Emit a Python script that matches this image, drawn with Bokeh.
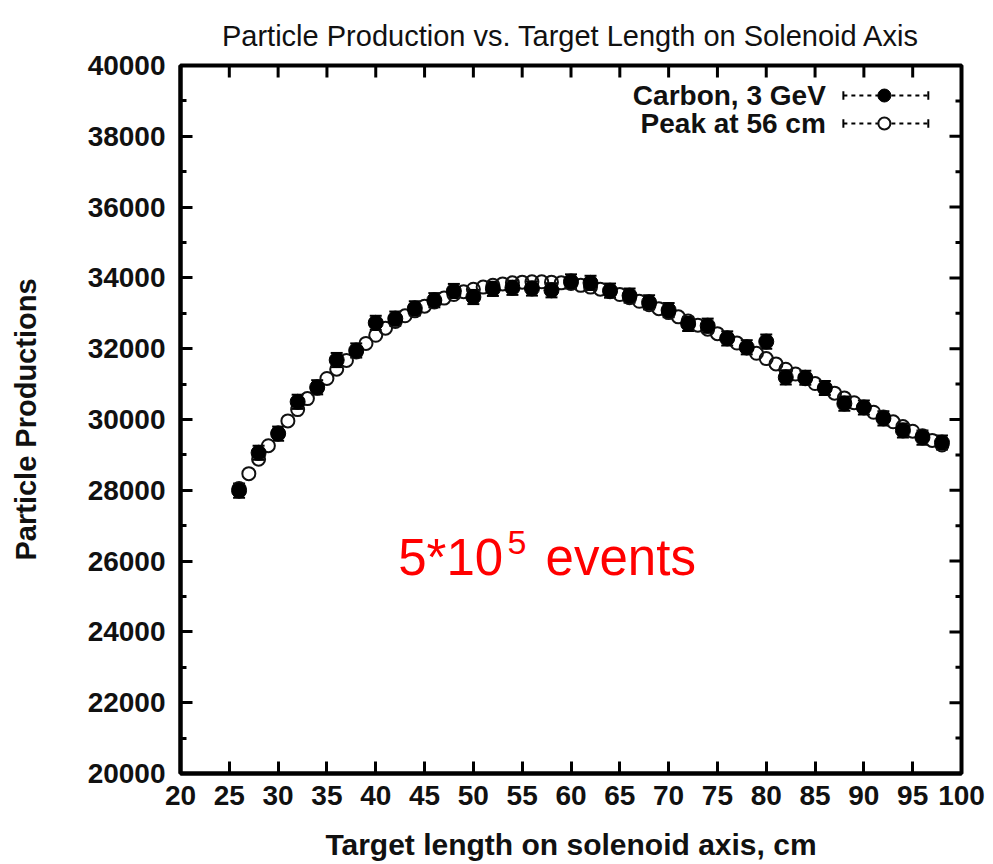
from bokeh.plotting import figure
from bokeh.models import (LinearAxis, SingleIntervalTicker, Range1d,
                          Whisker, ColumnDataSource, Label, TeeHead, Title)
from bokeh.core.properties import value
from bokeh.embed import file_html
from bokeh.resources import INLINE

# ---------------- data ----------------
carbon_x = [26, 28, 30, 32, 34, 36, 38, 40, 42, 44, 46, 48, 50, 52, 54, 56, 58,
            60, 62, 64, 66, 68, 70, 72, 74, 76, 78, 80, 82, 84, 86, 88, 90, 92,
            94, 96, 98]
carbon_y = [27990, 29060, 29600, 30500, 30910, 31680, 31950, 32730, 32850, 33140,
            33370, 33630, 33460, 33690, 33720, 33700, 33650, 33900, 33860, 33640,
            33500, 33310, 33090, 32700, 32650, 32290, 32040, 32200, 31190, 31180,
            30890, 30450, 30340, 30030, 29690, 29490, 29350]
carbon_err = [200, 200, 200, 200, 200, 200, 200, 200, 200, 200, 200, 200, 200,
              200, 200, 200, 200, 200, 200, 200, 200, 200, 200, 200, 200, 200,
              200, 200, 200, 200, 200, 200, 200, 200, 200, 200, 200]

peak_x = list(range(26, 99))
peak_y = [28050, 28470, 28880, 29260, 29620, 29960, 30280, 30590, 30880, 31160,
          31420, 31670, 31910, 32150, 32380, 32580, 32770, 32930, 33070, 33200,
          33320, 33430, 33530, 33610, 33680, 33740, 33790, 33830, 33860, 33880,
          33890, 33890, 33880, 33860, 33840, 33790, 33740, 33680, 33610, 33530,
          33440, 33340, 33240, 33130, 33020, 32900, 32780, 32665, 32550, 32425,
          32300, 32160, 32020, 31870, 31720, 31570, 31420, 31285, 31150, 31015,
          30880, 30745, 30610, 30475, 30340, 30205, 30070, 29935, 29800, 29670,
          29540, 29410, 29280]

x_ticks = [20, 25, 30, 35, 40, 45, 50, 55, 60, 65, 70, 75, 80, 85, 90, 95, 100]
y_ticks = [20000, 22000, 24000, 26000, 28000, 30000, 32000, 34000, 36000,
           38000, 40000]
y_minor = [21000, 23000, 25000, 27000, 29000, 31000, 33000, 35000, 37000, 39000]

series_labels = ["Carbon, 3 GeV", "Peak at 56 cm"]
title_text = "Particle Production vs. Target Length on Solenoid Axis"
x_label = "Target length on solenoid axis, cm"
y_label = "Particle Productions"

FONT = "Liberation Sans"
X0, X1, Y0, Y1 = 20, 100, 20000, 40000
W, H = 993, 864
BL, BR, BT, BB = 180, 32, 65, 91
FW, FH = W - BL - BR, H - BT - BB

p = figure(width=W, height=H, output_backend="svg", toolbar_location=None,
           title=None,
           x_range=Range1d(X0, X1), y_range=Range1d(Y0, Y1),
           x_axis_type=None, y_axis_type=None,
           min_border_left=BL, min_border_right=BR, min_border_top=BT,
           min_border_bottom=BB)
p.xgrid.visible = False
p.ygrid.visible = False
p.background_fill_color = "white"
p.border_fill_color = "white"
p.outline_line_color = "black"
p.outline_line_width = 4

ux = (X1 - X0) / FW
uy = (Y1 - Y0) / FH


def style_axis(ax):
    ax.axis_line_color = "black"
    ax.axis_line_width = 4
    ax.major_tick_line_color = "black"
    ax.major_tick_line_width = 3
    ax.minor_tick_line_color = "black"
    ax.minor_tick_line_width = 3
    ax.major_tick_in = 12
    ax.major_tick_out = 0
    ax.minor_tick_in = 6
    ax.minor_tick_out = 0
    ax.major_label_text_font = FONT
    ax.major_label_text_font_size = "28px"
    ax.major_label_text_font_style = "bold"
    ax.major_label_text_color = "#111111"
    ax.axis_label_text_font = FONT
    ax.axis_label_text_font_style = "bold"
    ax.axis_label_text_color = "#111111"


xb = LinearAxis(ticker=SingleIntervalTicker(interval=5, num_minor_ticks=0),
                axis_label=x_label)
style_axis(xb)
xb.axis_label_text_font_size = "30px"
xb.major_label_standoff = 12
xb.axis_label_standoff = 20
p.add_layout(xb, "below")

yl = LinearAxis(ticker=SingleIntervalTicker(interval=2000, num_minor_ticks=2),
                axis_label=y_label)
style_axis(yl)
yl.axis_label_text_font_size = "29px"
yl.major_label_standoff = 15
yl.axis_label_standoff = 43
p.add_layout(yl, "left")

title = Title(text=title_text, align="center", text_font=FONT,
              text_font_size="29px", text_font_style="normal",
              text_color="#111111", standoff=28)
p.add_layout(title, "above")

# mirror ticks on the top and right edges (pixel lengths converted via scales)
p.segment(x0=x_ticks, y0=[Y1] * len(x_ticks), x1=x_ticks,
          y1=[Y1 - 12 * uy] * len(x_ticks), line_color="black", line_width=3)
p.segment(x0=[X1] * len(y_ticks), y0=y_ticks, x1=[X1 - 12 * ux] * len(y_ticks),
          y1=y_ticks, line_color="black", line_width=3)
p.segment(x0=[X1] * len(y_minor), y0=y_minor, x1=[X1 - 6 * ux] * len(y_minor),
          y1=y_minor, line_color="black", line_width=3)

# ---------------- data marks ----------------
src_c = ColumnDataSource(dict(x=carbon_x, y=carbon_y,
                              lo=[a - b for a, b in zip(carbon_y, carbon_err)],
                              hi=[a + b for a, b in zip(carbon_y, carbon_err)]))
src_p = ColumnDataSource(dict(x=peak_x, y=peak_y))

p.scatter("x", "y", source=src_p, marker="circle", size=13,
          fill_color="white", fill_alpha=0.0, line_color="#111111", line_width=2)

wh = Whisker(source=src_c, base="x", upper="hi", lower="lo",
             line_color="black", line_width=2,
             upper_head=TeeHead(size=12, line_color="black", line_width=2),
             lower_head=TeeHead(size=12, line_color="black", line_width=2))
p.add_layout(wh)
p.scatter("x", "y", source=src_c, marker="circle", size=15,
          fill_color="black", line_color="black")

# ---------------- legend (text left of sample, gnuplot style) ----------------
leg_y = [39152, 38362]
p.text(x=[86.1, 86.1], y=leg_y, text=series_labels, text_align="right",
       text_baseline="middle", text_font=value(FONT), text_font_size="28px",
       text_font_style="bold", text_color="#111111")
p.segment(x0=[87.9, 87.9], y0=leg_y, x1=[96.6, 96.6], y1=leg_y,
          line_color="black", line_width=2, line_dash="4 4")
cap = 120
p.segment(x0=[87.9, 87.9, 96.6, 96.6],
          y0=[leg_y[0] - cap, leg_y[1] - cap, leg_y[0] - cap, leg_y[1] - cap],
          x1=[87.9, 87.9, 96.6, 96.6],
          y1=[leg_y[0] + cap, leg_y[1] + cap, leg_y[0] + cap, leg_y[1] + cap],
          line_color="black", line_width=2)
p.scatter(x=[92.1], y=[leg_y[0]], marker="circle", size=13,
          fill_color="black", line_color="black")
p.scatter(x=[92.1], y=[leg_y[1]], marker="circle", size=12,
          fill_color="white", line_color="#111111", line_width=2)

# ---------------- red annotation ----------------
p.add_layout(Label(x=42.3, y=26100, text="5*10", text_font=FONT,
                   text_font_size="51px", text_color="#ff0000",
                   text_baseline="alphabetic", text_align="left"))
p.add_layout(Label(x=53.5, y=26525, text="5", text_font=FONT,
                   text_font_size="34px", text_color="#ff0000",
                   text_baseline="alphabetic", text_align="left"))
p.add_layout(Label(x=57.4, y=26100, text="events", text_font=FONT,
                   text_font_size="51px", text_color="#ff0000",
                   text_baseline="alphabetic", text_align="left"))

open("out.html", "w").write(file_html(p, INLINE))
